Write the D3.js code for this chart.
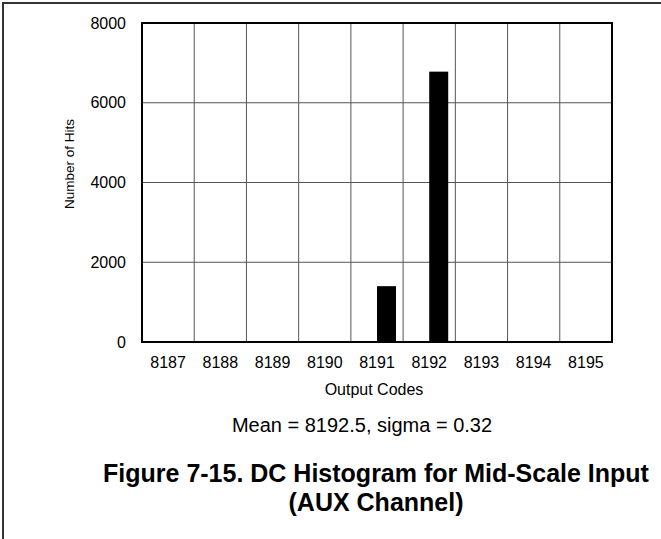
<!DOCTYPE html>
<html>
<head>
<meta charset="utf-8">
<script src="https://cdn.jsdelivr.net/npm/d3@7"></script>
<style>
  html, body { margin: 0; padding: 0; background: #fff; }
  svg { display: block; }
  text { font-family: "Liberation Sans", Arial, sans-serif; fill: #000; }
</style>
</head>
<body>
<svg id="chart" width="661" height="539"></svg>
<script>
const categories = ["8187", "8188", "8189", "8190", "8191", "8192", "8193", "8194", "8195"];
const hits = [0, 0, 0, 0, 1400, 6780, 0, 0, 0];
const yTicks = [0, 2000, 4000, 6000, 8000];
const xTitle = "Output Codes";
const yTitle = "Number of Hits";
const statsNote = "Mean = 8192.5, sigma = 0.32";
const captionLines = ["Figure 7-15. DC Histogram for Mid-Scale Input", "(AUX Channel)"];

const svg = d3.select("#chart");
const W = 661, H = 539;
const plot = { left: 142, right: 612, top: 23, bottom: 342 };

// outer frame (top and left edges)
svg.append("path")
  .attr("d", `M3,${H} L3,3 L${W},3`)
  .attr("fill", "none").attr("stroke", "#333").attr("stroke-width", 2);

const x = d3.scaleBand().domain(categories).range([plot.left, plot.right]).padding(0);
const y = d3.scaleLinear().domain([0, 8000]).range([plot.bottom, plot.top]);

// gridlines
const g = svg.append("g");
g.selectAll("line.h").data(yTicks.filter(v => v > 0 && v < 8000)).join("line")
  .attr("x1", plot.left).attr("x2", plot.right)
  .attr("y1", d => y(d)).attr("y2", d => y(d))
  .attr("stroke", "#555").attr("stroke-width", 1);
g.selectAll("line.v").data(categories.slice(1)).join("line")
  .attr("x1", d => x(d)).attr("x2", d => x(d))
  .attr("y1", plot.top).attr("y2", plot.bottom)
  .attr("stroke", "#555").attr("stroke-width", 1);

// bars (start at category centre, Excel-style offset)
const barW = 19;
svg.selectAll("rect.bar").data(categories.map((c, i) => ({ c, v: hits[i] })).filter(d => d.v > 0)).join("rect")
  .attr("x", d => x(d.c) + x.bandwidth() / 2)
  .attr("width", barW)
  .attr("y", d => y(d.v))
  .attr("height", d => y(0) - y(d.v))
  .attr("fill", "#000");

// plot frame
svg.append("rect")
  .attr("x", plot.left).attr("y", plot.top)
  .attr("width", plot.right - plot.left).attr("height", plot.bottom - plot.top)
  .attr("fill", "none").attr("stroke", "#000").attr("stroke-width", 2);

// axes
const xAxis = svg.append("g").attr("transform", `translate(0,${plot.bottom})`)
  .call(d3.axisBottom(x).tickSize(0).tickPadding(15));
xAxis.select(".domain").remove();
xAxis.selectAll("text").attr("font-size", 16).style("font-family", "Liberation Sans, Arial, sans-serif");

const yAxis = svg.append("g").attr("transform", `translate(${plot.left},0)`)
  .call(d3.axisLeft(y).tickValues(yTicks).tickFormat(d3.format("d")).tickSize(0).tickPadding(16));
yAxis.select(".domain").remove();
yAxis.selectAll("text").attr("font-size", 16).style("font-family", "Liberation Sans, Arial, sans-serif");

// axis titles
svg.append("text").attr("x", 374).attr("y", 395).attr("text-anchor", "middle")
  .attr("font-size", 16).text(xTitle);
svg.append("text").attr("transform", "translate(74,164) rotate(-90)").attr("text-anchor", "middle")
  .attr("font-size", 13.5).text(yTitle);

// stats note
svg.append("text").attr("x", 362).attr("y", 432).attr("text-anchor", "middle")
  .attr("font-size", 20).text(statsNote);

// caption
svg.selectAll("text.cap").data(captionLines).join("text")
  .attr("class", "cap")
  .attr("x", 376).attr("y", (d, i) => 482 + i * 29)
  .attr("text-anchor", "middle").attr("font-size", 25).attr("font-weight", "bold")
  .text(d => d);
</script>
</body>
</html>
